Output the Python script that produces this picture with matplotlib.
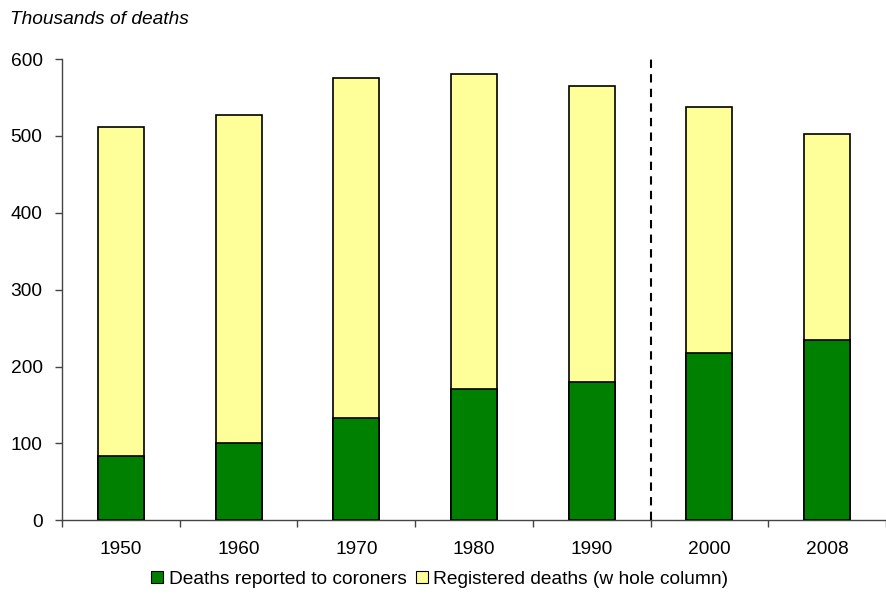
import numpy as np
import matplotlib.pyplot as plt
from matplotlib.patches import Patch

plt.rcParams['font.family'] = ['Liberation Sans', 'DejaVu Sans']

years = ['1950', '1960', '1970', '1980', '1990', '2000', '2008']
registered = [511, 527, 575, 581, 565, 537, 502]
coroners = [84, 101, 133, 171, 180, 218, 234]

green = '#008000'
yellow = '#FFFF99'
fs = 13.8

fig = plt.figure(figsize=(8.86, 5.94), dpi=100)
ax = fig.add_axes([62 / 886, 1 - 520.3 / 594, 1 - 62 / 886, (520.3 - 59) / 594])

x = np.arange(len(years))
width = 0.39
# whole column is registered deaths, coroner share drawn over its base
ax.bar(x, registered, width, color=yellow, edgecolor='black', linewidth=1.2, zorder=2)
ax.bar(x, coroners, width, color=green, edgecolor='black', linewidth=1.2, zorder=3)

ax.axvline(4.5, color='black', linestyle=(0, (4, 3)), linewidth=1.5, zorder=4)

ax.set_ylim(0, 600)
ax.set_xlim(-0.5, 6.5 - 9 / 119)
ax.set_yticks(range(0, 601, 100))
ax.set_xticks(x)
ax.set_xticklabels(years)
ax.set_xticks(np.arange(-0.5, 6.6, 1), minor=True)
ax.tick_params(axis='x', which='major', length=0, pad=15, labelsize=fs)
ax.tick_params(axis='x', which='minor', length=5, width=1, color='#444444')
ax.tick_params(axis='y', length=5, width=1, color='#444444', pad=9, labelsize=fs)

for s in ['top', 'right']:
    ax.spines[s].set_visible(False)
for s in ['left', 'bottom']:
    ax.spines[s].set_color('#444444')
    ax.spines[s].set_linewidth(1)

fig.text(10 / 886, 1 - 20 / 594, 'Thousands of deaths', fontsize=fs,
         style='italic', va='center', ha='left')

handles = [Patch(facecolor=green, edgecolor='black', linewidth=0.8),
           Patch(facecolor=yellow, edgecolor='black', linewidth=0.8)]
fig.legend(handles, ['Deaths reported to coroners', 'Registered deaths (w hole column)'],
           loc='center', bbox_to_anchor=(440 / 886, 1 - 579 / 594), ncol=2,
           frameon=False, fontsize=fs, handlelength=0.6, handleheight=0.6,
           handletextpad=0.3, columnspacing=0.5)

fig.savefig('out.png', dpi=100)
